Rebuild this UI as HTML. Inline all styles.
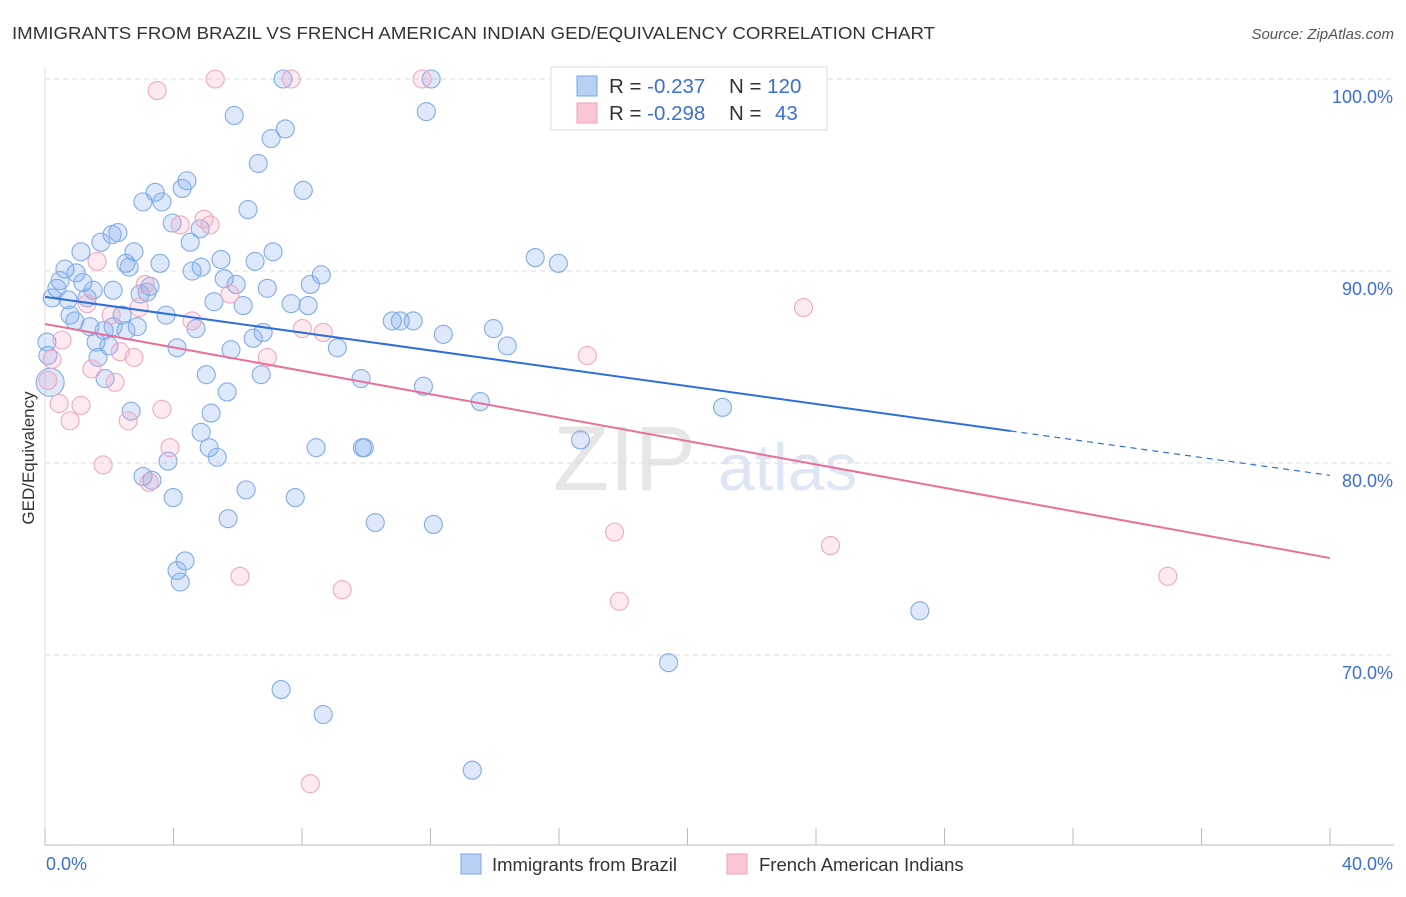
<!DOCTYPE html>
<html><head><meta charset="utf-8"><style>
body{margin:0;background:#fff;font-family:"Liberation Sans",sans-serif;}
svg text{font-family:"Liberation Sans",sans-serif;}
</style></head><body>
<svg id="chart" width="1406" height="892" xmlns="http://www.w3.org/2000/svg">
<text x="12" y="39" font-size="17.5" fill="#333" textLength="923" lengthAdjust="spacingAndGlyphs">IMMIGRANTS FROM BRAZIL VS FRENCH AMERICAN INDIAN GED/EQUIVALENCY CORRELATION CHART</text>
<text x="1394" y="39" font-size="15" fill="#555" text-anchor="end" font-style="italic">Source: ZipAtlas.com</text>
<text x="553" y="490" font-size="92" fill="#e6e6e6" font-family="Liberation Serif">ZIP</text>
<text x="718" y="490" font-size="66" fill="#dde6f4">atlas</text>
<g id="grid"></g>
<g id="axes"></g>
<g id="marks"></g>
<g id="trends"></g>
<text transform="translate(34,458) rotate(-90)" font-size="17" fill="#333" text-anchor="middle">GED/Equivalency</text>
<g>
<rect x="551" y="67" width="276" height="63" fill="#fff" stroke="#ddd"/>
<rect x="577" y="76" width="20" height="20" fill="#b8d0f4" stroke="#7aa6e6"/>
<rect x="577" y="103" width="20" height="20" fill="#f9c6d4" stroke="#eea2b8"/>
<text x="609" y="93" font-size="20.5" fill="#333">R = <tspan fill="#3a6fd6">-0.237</tspan></text>
<text x="729" y="93" font-size="20.5" fill="#333">N = <tspan fill="#3a6fd6">120</tspan></text>
<text x="609" y="120" font-size="20.5" fill="#333">R = <tspan fill="#3a6fd6">-0.298</tspan></text>
<text x="729" y="120" font-size="20.5" fill="#333">N = <tspan x="775" fill="#3a6fd6">43</tspan></text>
</g>
<g>
<rect x="461" y="854" width="20" height="20" fill="#b8d0f4" stroke="#7aa6e6"/>
<text x="492" y="871" font-size="18.5" fill="#333">Immigrants from Brazil</text>
</g>
<g>
<rect x="727" y="854" width="20" height="20" fill="#f9c6d4" stroke="#eea2b8"/>
<text x="759" y="871" font-size="18.5" fill="#333">French American Indians</text>
</g>
</svg>
<script>
const blueX=[16.26,7.41,12.02,5.89,11.87,7.48,7.04,6.64,8.04,4.42,4.27,3.43,3.05,3.64,6.32,3.96,4.83,2.27,2.09,1.74,4.52,1.12,2.77,7.10,15.26,15.98,5.48,6.54,3.58,2.52,2.62,4.86,4.58,0.62,0.97,8.60,0.47,5.58,1.18,5.95,8.26,0.37,6.92,2.12,3.27,3.18,1.50,2.96,0.22,0.72,1.31,5.26,6.17,7.66,8.19,0.78,3.77,0.93,10.81,11.06,11.46,2.40,1.40,2.12,2.87,1.84,2.52,13.96,4.70,12.40,6.79,6.48,1.59,1.99,9.10,5.79,14.39,4.11,1.65,0.09,0.06,1.87,5.02,6.73,9.84,11.78,5.67,13.55,21.09,2.68,5.17,4.86,16.67,5.11,8.44,9.88,9.94,5.36,3.83,3.05,3.33,6.26,3.99,7.79,5.70,10.28,12.09,4.36,4.11,4.21,27.23,19.41,7.35,8.66,13.30,0.16];
const blueY=[100,100,100,98.1,98.3,97.4,96.9,95.6,94.2,94.7,94.3,94.1,93.6,93.6,93.2,92.5,92.2,92.0,91.9,91.5,91.5,91.0,91.0,91.0,90.7,90.4,90.6,90.5,90.4,90.4,90.2,90.2,90.0,90.1,89.9,89.8,89.5,89.6,89.4,89.3,89.3,89.1,89.1,89.0,89.2,88.9,89.0,88.8,88.6,88.5,88.6,88.4,88.2,88.3,88.2,87.7,87.7,87.4,87.4,87.4,87.4,87.7,87.1,87.1,87.1,86.9,86.9,87.0,87.0,86.7,86.8,86.5,86.3,86.1,86.0,85.9,86.1,86.0,85.5,85.6,86.3,84.4,84.6,84.6,84.4,84.0,83.7,83.2,82.9,82.7,82.6,81.6,81.2,80.8,80.8,80.8,80.8,80.3,80.1,79.3,79.1,78.6,78.2,78.2,77.1,76.9,76.8,74.9,74.4,73.8,72.3,69.6,68.2,66.9,64.0,84.2];
const pinkX=[3.49,5.30,7.66,11.74,4.95,5.14,4.21,1.62,3.12,5.76,1.31,2.93,23.61,4.58,2.06,8.01,8.66,0.53,2.34,2.77,6.92,16.88,1.46,2.18,0.09,0.44,1.12,3.64,0.78,2.59,3.89,1.81,3.24,17.73,24.45,6.07,34.95,9.25,17.88,8.26,0.22];
const pinkY=[99.4,100,100,100,92.7,92.4,92.4,90.5,89.3,88.8,88.3,88.1,88.1,87.4,87.7,87.0,86.8,86.4,85.8,85.5,85.5,85.6,84.9,84.2,84.3,83.1,83.0,82.8,82.2,82.2,80.8,79.9,79.0,76.4,75.7,74.1,74.1,73.4,72.8,63.3,85.4];
const trendBlue=[88.65,-0.2323]; const trendPink=[87.24,-0.3048];
const yTicks=[100,90,80,70];
const xTickLabels=["0.0%","40.0%"];
const NS="http://www.w3.org/2000/svg";
const X=v=>45+v*32.125, Y=v=>79+(100-v)*19.2;
function mk(tag,attrs,parent){const e=document.createElementNS(NS,tag);for(const k in attrs)e.setAttribute(k,attrs[k]);parent.appendChild(e);return e;}
const grid=document.getElementById('grid'),axes=document.getElementById('axes'),marks=document.getElementById('marks'),trends=document.getElementById('trends');
yTicks.forEach(t=>{const l=mk('line',{x1:45,x2:1394,y1:Y(t),y2:Y(t),stroke:'#ddd','stroke-dasharray':'5,4'},grid);


const tx=mk('text',{x:1393,y:Y(t)+24,'font-size':18,fill:'#3a6fd6','text-anchor':'end'},axes);tx.textContent=t.toFixed(1)+'%';

});
const ax=mk('line',{x1:45,x2:1394,y1:845,y2:845,stroke:'#bbb'},axes);


const ay=mk('line',{x1:45,x2:45,y1:68,y2:845,stroke:'#ddd'},axes);


for(let i=0;i<=10;i++){const t=mk('line',{x1:X(i*4),x2:X(i*4),y1:828,y2:845,stroke:'#bbb'},axes);

}
[[0,'start',46],[40,'end',1393]].forEach((a,i)=>{const t=mk('text',{x:a[2],y:870,'font-size':18,fill:'#3a6fd6','text-anchor':a[1]},axes);t.textContent=xTickLabels[i];

});
function pts(xs,ys,fill,stroke,name){xs.forEach((x,i)=>{const r=(i===xs.length-1&&name==='brazil-point')?14:9;const c=mk('circle',{cx:X(x),cy:Y(ys[i]),r:r,fill:fill,stroke:stroke,'stroke-width':1.1},marks);

});}
pts(blueX,blueY,'rgba(120,165,235,0.25)','#82ace8','brazil-point');
pts(pinkX,pinkY,'rgba(245,160,190,0.22)','#f0a8be','french-american-indian-point');
const f=(t,x)=>t[0]+t[1]*x;
const b1=mk('line',{x1:X(0),y1:Y(f(trendBlue,0)),x2:X(30.06),y2:Y(f(trendBlue,30.06)),stroke:'#2d6fd8','stroke-width':2},trends);


const b2=mk('line',{x1:X(30.06),y1:Y(f(trendBlue,30.06)),x2:X(40),y2:Y(f(trendBlue,40)),stroke:'#2d6fd8','stroke-width':1.2,'stroke-dasharray':'6,5'},trends);


const p1=mk('line',{x1:X(0),y1:Y(f(trendPink,0)),x2:X(40),y2:Y(f(trendPink,40)),stroke:'#e8709a','stroke-width':2},trends);


</script>
</body></html>
